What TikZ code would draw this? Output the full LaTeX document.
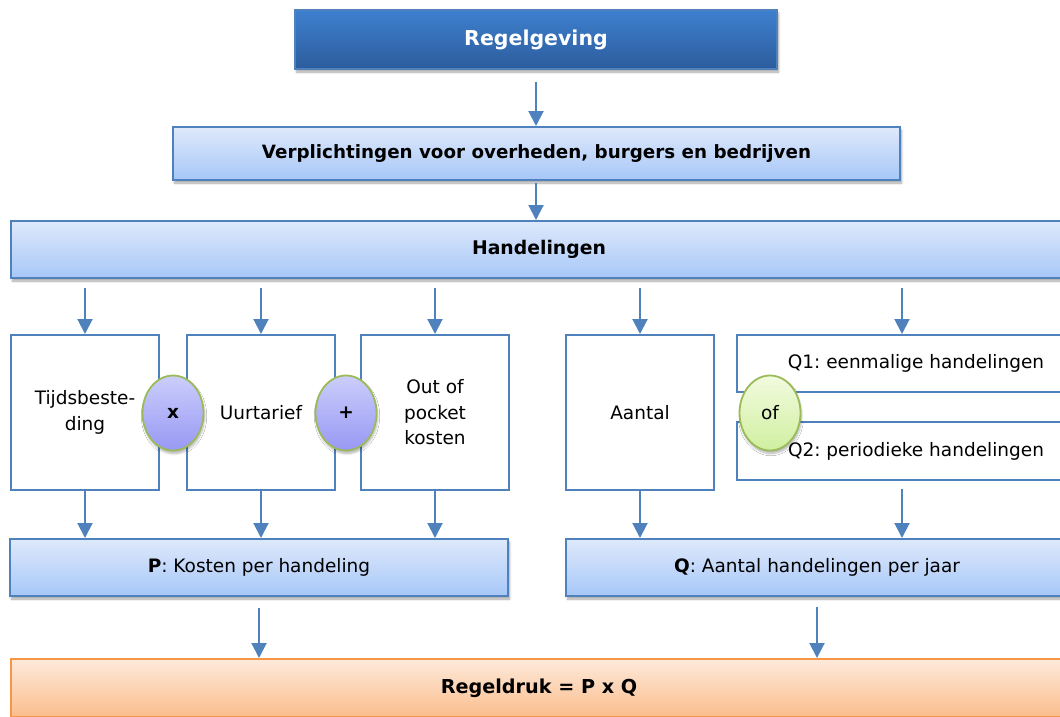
\documentclass[tikz,border=0pt]{standalone}
\usepackage{fontspec}
\setmainfont{DejaVu Sans}
\usetikzlibrary{arrows.meta,shadows.blur,calc,shapes.geometric}
\definecolor{bdr}{HTML}{4F81BD}
\definecolor{dkT}{HTML}{3E80CF}
\definecolor{dkB}{HTML}{2C5C9C}
\definecolor{ltT}{HTML}{DEE9FB}
\definecolor{ltB}{HTML}{A7C7F8}
\definecolor{puT}{HTML}{CBCEFB}
\definecolor{puB}{HTML}{9898F4}
\definecolor{grn}{HTML}{9BBB59}
\definecolor{gnT}{HTML}{F2FBDF}
\definecolor{gnB}{HTML}{D0EFA0}
\definecolor{orT}{HTML}{FDEADB}
\definecolor{orB}{HTML}{FBBD8C}
\definecolor{orD}{HTML}{F79646}
\tikzset{
  base/.style={rectangle, inner sep=0pt, outer sep=0pt, line width=1.8pt, align=center,
    font=\fontsize{18.5}{25.5}\selectfont},
  shad/.style={blur shadow={shadow xshift=1.5pt, shadow yshift=-3pt, shadow blur steps=6, shadow opacity=35}},
  darkbox/.style={base, shad, draw=bdr, top color=dkT, bottom color=dkB, text=white,
    font=\fontsize{20.5}{24}\selectfont\bfseries},
  lightbox/.style={base, shad, draw=bdr, top color=ltT, bottom color=ltB},
  whitebox/.style={base, draw=bdr, fill=white},
  orangebox/.style={base, shad, draw=orD, top color=orT, bottom color=orB},
  opcircle/.style={ellipse, inner sep=0pt, outer sep=0pt, line width=1.8pt, draw=grn,
    blur shadow={shadow xshift=1pt, shadow yshift=-3pt, shadow blur steps=6, shadow opacity=30},
    minimum width=61pt, minimum height=75pt, top color=puT, bottom color=puB,
    font=\fontsize{18.5}{22}\selectfont\bfseries},
  ofcircle/.style={opcircle, top color=gnT, bottom color=gnB, font=\fontsize{18.5}{22}\selectfont},
  arr/.style={draw=bdr, line width=2pt, -{Triangle[width=15pt,length=15pt]}}
}
\begin{document}
\frenchspacing
\begin{tikzpicture}[x=1pt,y=-1pt]
\useasboundingbox (0,0) rectangle (1060,716);
\clip (0,0) rectangle (1060,716);

\node[darkbox, minimum width=482pt, minimum height=59pt] (reg) at (536,39.5) {Regelgeving};
\node[lightbox, minimum width=727pt, minimum height=53pt, font=\fontsize{18.3}{22}\selectfont\bfseries] (verp) at (536.5,153.5) {Verplichtingen voor overheden, burgers en bedrijven};
\node[lightbox, minimum width=1056pt, minimum height=57pt, font=\fontsize{18.8}{22}\selectfont\bfseries] (hand) at (539,249.5) {Handelingen};

\node[whitebox, minimum width=148pt, minimum height=155pt] (tijd) at (85,412.5) {Tijdsbeste-\\ding};
\node[whitebox, minimum width=148pt, minimum height=155pt] (uur) at (261,412.5) {Uurtarief};
\node[whitebox, minimum width=148pt, minimum height=155pt] (oop) at (435,412.5) {Out of\\pocket\\kosten};
\node[whitebox, minimum width=148pt, minimum height=155pt] (aant) at (640,412.5) {Aantal};
\node[whitebox, minimum width=358pt, minimum height=57pt] (qa) at (916,363.5) {Q1: eenmalige handelingen};
\node[whitebox, minimum width=358pt, minimum height=58pt] (qb) at (916,451) {Q2: periodieke handelingen};

\node[opcircle] (times) at (173,413) {x};
\node[opcircle] (plus) at (346,413) {+};
\node[ofcircle] (of) at (770,413) {of};

\node[lightbox, minimum width=498pt, minimum height=57pt] (pbox) at (259,567.5) {\textbf{P}: Kosten per handeling};
\node[lightbox, minimum width=502pt, minimum height=57pt] (qbox) at (817,567.5) {\textbf{Q}: Aantal handelingen per jaar};
\node[orangebox, minimum width=1056pt, minimum height=58pt, font=\fontsize{19.2}{22}\selectfont\bfseries] (rd) at (539,688) {Regeldruk = P x Q};

\coordinate (qcol) at (902,0);

\draw[arr] ([yshift=-13pt]reg.south) -- ([yshift=1pt]verp.north -| reg.south);
\draw[arr] ([yshift=-3pt]verp.south -| reg.south) -- ([yshift=1pt]hand.north -| reg.south);

\draw[arr] ([yshift=-10pt]hand.south -| tijd.north) -- ([yshift=1pt]tijd.north);
\draw[arr] ([yshift=-10pt]hand.south -| uur.north) -- ([yshift=1pt]uur.north);
\draw[arr] ([yshift=-10pt]hand.south -| oop.north) -- ([yshift=1pt]oop.north);
\draw[arr] ([yshift=-10pt]hand.south -| aant.north) -- ([yshift=1pt]aant.north);
\draw[arr] ([yshift=-10pt]hand.south -| qcol) -- ([yshift=1pt]qa.north -| qcol);

\draw[arr] (tijd.south) -- ([yshift=1pt]pbox.north -| tijd.south);
\draw[arr] (uur.south) -- ([yshift=1pt]pbox.north -| uur.south);
\draw[arr] (oop.south) -- ([yshift=1pt]pbox.north -| oop.south);
\draw[arr] (aant.south) -- ([yshift=1pt]qbox.north -| aant.south);
\draw[arr] ([yshift=-9pt]qb.south -| qcol) -- ([yshift=1pt]qbox.north -| qcol);

\draw[arr] ([yshift=-12pt]pbox.south) -- ([yshift=1pt]rd.north -| pbox.south);
\draw[arr] ([yshift=-11pt]qbox.south) -- ([yshift=1pt]rd.north -| qbox.south);
\end{tikzpicture}
\end{document}
